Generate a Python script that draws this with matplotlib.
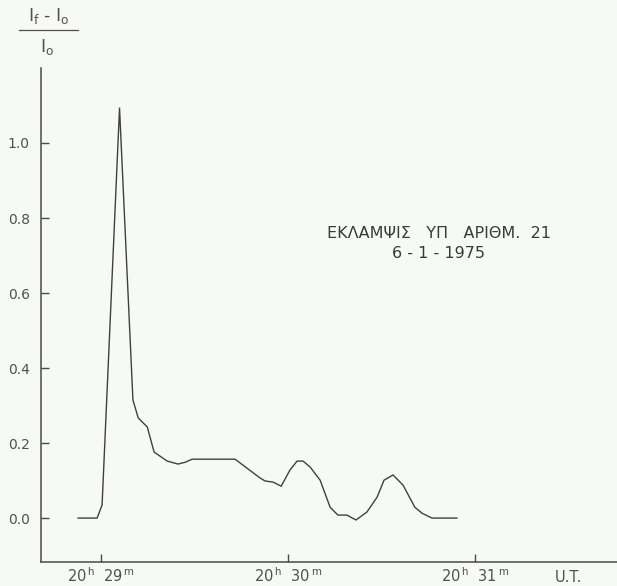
import numpy as np
import matplotlib
matplotlib.use("Agg")
from matplotlib import pyplot as plt
from matplotlib.lines import Line2D

# Datos: tiempo en segundos despues de 20h 29m
tiempo = [-7.4, -1.3, 0.3, 5.9, 10.2, 11.9, 14.8, 17.0, 21.2, 24.7, 27.0, 29.2,
          43.0, 51.0, 52.6, 55.2, 57.8, 60.6, 62.9, 64.8, 67.1, 70.3, 73.5,
          76.0, 78.9, 81.8, 85.3, 88.6, 90.8, 93.7, 96.9, 100.7, 103.0, 106.2, 114.2]
intensidad = [0.0, 0.0, 0.035, 1.093, 0.315, 0.267, 0.243, 0.176, 0.152, 0.144, 0.149, 0.157,
              0.157, 0.107, 0.099, 0.096, 0.085, 0.128, 0.152, 0.152, 0.136, 0.101, 0.029,
              0.008, 0.008, -0.005, 0.016, 0.056, 0.101, 0.115, 0.088, 0.029, 0.013, 0.0, 0.0]

yticks = [0.0, 0.2, 0.4, 0.6, 0.8, 1.0]
xticks = [0, 60, 120]
xlabels = ["20$^{\\,h}$  29$^{\\,m}$", "20$^{\\,h}$  30$^{\\,m}$", "20$^{\\,h}$  31$^{\\,m}$"]

plt.rcParams["font.family"] = ["DejaVu Sans"]
plt.rcParams["mathtext.default"] = "regular"

fondo = "#f7f9f4"
gris = "#4a4a4a"
texto = "#505050"

fig = plt.figure(figsize=(6.17, 5.86), dpi=100, facecolor=fondo)
ax = fig.add_axes([0.0665, 0.041, 0.9335, 0.843], facecolor=fondo)

ax.plot(tiempo, intensidad, color="#404040", linewidth=1.0)

ax.set_xlim(-19.3, 165.6)
ax.set_ylim(-0.117, 1.2)

ax.spines["top"].set_visible(False)
ax.spines["right"].set_visible(False)
ax.spines["left"].set_color(gris)
ax.spines["bottom"].set_color(gris)
ax.spines["left"].set_linewidth(1.1)
ax.spines["bottom"].set_linewidth(1.1)

ax.set_yticks(yticks)
ax.set_yticklabels(["%.1f" % v for v in yticks])
ax.set_xticks(xticks)
ax.set_xticklabels(xlabels)
ax.tick_params(axis="y", direction="in", length=6, width=1, color=gris,
               labelsize=10, labelcolor=texto, pad=8)
ax.tick_params(axis="x", direction="in", length=6, width=1, color=gris,
               labelsize=10.5, labelcolor=texto, pad=3)

# U.T. al final del eje
fig.text(568 / 617, 1 - 577 / 586, "U.T.", fontsize=10.5, color=texto,
         ha="center", va="center")

# Etiqueta del eje y como fraccion
fig.text(49 / 617, 1 - 16 / 586, "I$_{f}$ - I$_{o}$", fontsize=12.5, color=texto,
         ha="center", va="center")
fig.add_artist(Line2D([19 / 617, 78 / 617], [1 - 30 / 586, 1 - 30 / 586],
                      color=texto, linewidth=0.9))
fig.text(47 / 617, 1 - 47 / 586, "I$_{o}$", fontsize=12.5, color=texto,
         ha="center", va="center")

# Titulo de la llamarada
fig.text(439 / 617, 1 - 233 / 586, "ΕΚΛΑΜΨΙΣ   ΥΠ   ΑΡΙΘΜ.  21", fontsize=11.5,
         color="#3a3a3a", ha="center", va="center")
fig.text(439 / 617, 1 - 254 / 586, "6 - 1 - 1975", fontsize=11.5,
         color="#3a3a3a", ha="center", va="center")

fig.savefig("out.png", dpi=100, facecolor=fondo)
